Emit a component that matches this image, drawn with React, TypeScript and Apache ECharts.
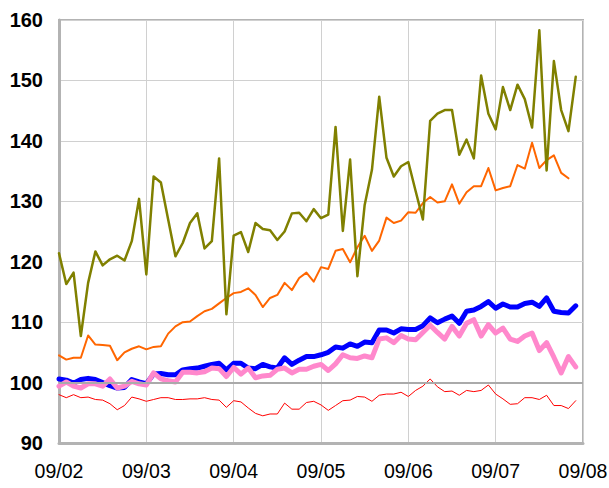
import React, { useEffect, useRef } from "react";
import * as echarts from "echarts";

const monthLabels = ["09/02", "09/03", "09/04", "09/05", "09/06", "09/07", "09/08"];
const periodsPerMonth = 12;
const yTicks = [90, 100, 110, 120, 130, 140, 150, 160];

const oliveSeries = [
  121.4, 116.3, 118.2, 107.7, 116.5, 121.7, 119.4, 120.4, 121.0, 120.2, 123.4, 130.4,
  117.9, 134.1, 133.1, 127.0, 120.9, 123.1, 126.4, 128.0, 122.2, 123.4, 137.1, 111.3,
  124.3, 124.9, 121.6, 126.4, 125.4, 125.2, 123.6, 125.0, 128.0, 128.1, 126.7, 128.7,
  127.2, 127.8, 142.3, 125.1, 136.9, 117.6, 129.4, 135.2, 147.3, 137.2, 134.1, 135.8,
  136.5, 131.7, 127.0, 143.3, 144.5, 145.1, 145.1, 137.7, 140.2, 137.1, 150.8, 144.5,
  141.9, 148.9, 145.1, 149.3, 146.9, 142.2, 158.3, 135.1, 153.2, 145.1, 141.6, 150.6,
];

const orangeSeries = [
  104.5, 103.8, 104.1, 104.1, 107.8, 106.3, 106.2, 106.1, 103.7, 105.0, 105.6, 106.0,
  105.5, 105.9, 106.0, 108.1, 109.3, 110.0, 110.1, 111.0, 111.8, 112.2, 113.1, 114.0,
  114.8, 115.0, 115.6, 114.5, 112.5, 114.0, 114.5, 116.5, 115.3, 117.3, 118.2, 116.7,
  119.1, 118.8, 121.8, 122.1, 119.9, 122.4, 124.3, 121.8, 123.5, 127.3, 126.4, 126.8,
  128.2, 128.1, 129.7, 130.7, 129.8, 130.0, 132.8, 129.6, 131.5, 132.5, 132.5, 135.5,
  131.8, 132.2, 132.5, 136.0, 135.4, 139.7, 135.5, 136.8, 137.6, 134.7, 133.8,
];

const blueSeries = [
  100.6, 100.4, 99.9, 100.5, 100.7, 100.5, 100.0, 99.5, 99.1, 99.2, 100.5, 100.1,
  99.8, 101.4, 101.5, 101.3, 101.3, 102.1, 102.3, 102.4, 102.7, 103.0, 103.2, 102.1,
  103.2, 103.2, 102.4, 102.3, 103.0, 102.6, 102.4, 104.1, 103.0, 103.7, 104.3, 104.3,
  104.6, 105.0, 105.9, 105.7, 106.4, 106.0, 106.7, 106.6, 108.7, 108.7, 108.2, 108.9,
  108.8, 108.8, 109.4, 110.7, 109.9, 110.5, 111.0, 109.8, 111.8, 112.0, 112.6, 113.4,
  112.3, 113.0, 112.5, 112.5, 113.1, 113.3, 112.6, 114.0, 111.8, 111.6, 111.5, 112.7,
];

const pinkSeries = [
  99.4, 100.1, 99.4, 99.1, 99.8, 99.8, 99.4, 100.6, 99.1, 99.4, 100.2, 99.8,
  99.6, 101.6, 100.6, 100.3, 100.1, 101.7, 101.7, 101.6, 101.8, 102.4, 102.3, 101.0,
  102.5, 101.4, 102.4, 100.8, 101.1, 101.2, 102.2, 102.4, 101.6, 102.2, 102.2, 102.7,
  103.0, 102.0, 103.1, 104.6, 104.1, 104.0, 104.4, 104.1, 107.2, 107.4, 106.6, 107.8,
  107.2, 107.1, 108.3, 109.5, 108.3, 107.2, 109.3, 107.7, 109.8, 110.4, 107.7, 109.6,
  108.2, 109.0, 107.2, 106.8, 107.7, 108.2, 105.3, 106.6, 104.2, 101.6, 104.3, 102.6,
];

const redSeries = [
  98.0, 97.5, 98.0, 97.5, 97.6, 97.2, 97.1, 96.5, 95.5, 96.2, 97.6, 97.3,
  96.9, 97.2, 97.5, 97.5, 97.2, 97.2, 97.3, 97.3, 97.5, 97.2, 97.1, 95.9,
  97.0, 96.8, 95.8, 94.9, 94.5, 94.8, 94.8, 96.6, 95.6, 95.6, 96.7, 96.9,
  96.3, 95.4, 96.2, 97.0, 97.1, 97.7, 97.6, 96.9, 97.9, 98.1, 98.1, 98.4,
  97.7, 98.7, 99.4, 100.6, 99.3, 98.5, 98.6, 97.9, 98.7, 98.5, 98.7, 99.6,
  98.1, 97.3, 96.4, 96.5, 97.5, 97.5, 97.2, 97.9, 96.2, 96.2, 95.7, 97.0,
];

const baselineValue = 100;

const toPoints = (arr: number[]) => arr.map((v, i) => [i, v]);

export default function App() {
  const ref = useRef<HTMLDivElement>(null);

  useEffect(() => {
    if (!ref.current) return;
    const chart = echarts.init(ref.current, undefined, { renderer: "svg" });
    const xMax = (monthLabels.length - 1) * periodsPerMonth;
    const lineSeries = (name: string, data: number[], color: string, width: number, z: number, extra: any = {}) => ({
      name,
      type: "line",
      data: toPoints(data),
      showSymbol: false,
      symbol: "none",
      lineStyle: { color, width, join: "round", cap: "round" },
      itemStyle: { color },
      z,
      ...extra,
    });
    chart.setOption({
      animation: false,
      backgroundColor: "#ffffff",
      grid: {
        left: 59,
        top: 20,
        right: 26,
        bottom: 45,
        containLabel: false,
        outerBoundsMode: "none",
        show: true,
        borderColor: "#b3b3b3",
        borderWidth: 2,
      },
      xAxis: {
        type: "value",
        min: 0,
        max: xMax,
        interval: periodsPerMonth,
        axisLine: { show: true, lineStyle: { color: "#b3b3b3", width: 3 } },
        axisTick: { show: false },
        splitLine: { show: true, lineStyle: { color: "#d0d0d0", width: 1 } },
        axisLabel: {
          color: "#000000",
          fontFamily: "Liberation Sans",
          fontSize: 19.5,
          margin: 18,
          formatter: (v: number) => monthLabels[Math.round(v / periodsPerMonth)] ?? "",
        },
      },
      yAxis: {
        type: "value",
        min: yTicks[0],
        max: yTicks[yTicks.length - 1],
        interval: 10,
        axisLine: { show: true, lineStyle: { color: "#b3b3b3", width: 3 } },
        axisTick: { show: false },
        splitLine: { show: true, lineStyle: { color: "#d0d0d0", width: 1 } },
        axisLabel: {
          color: "#000000",
          fontFamily: "Liberation Sans",
          fontWeight: "bold",
          fontSize: 20,
          margin: 16,
        },
      },
      series: [
        lineSeries("red", redSeries, "#ff0000", 1, 2, {
          markLine: {
            silent: true,
            symbol: "none",
            label: { show: false },
            lineStyle: { color: "#aaaaaa", width: 2, type: "solid" },
            data: [{ yAxis: baselineValue }],
          },
        }),
        lineSeries("blue", blueSeries, "#0000ff", 5, 3),
        lineSeries("pink", pinkSeries, "#ff88cc", 5, 4),
        lineSeries("orange", orangeSeries, "#ff6600", 2, 5),
        lineSeries("olive", oliveSeries, "#808000", 2.5, 6),
      ],
    });
    return () => chart.dispose();
  }, []);

  return (
    <div
      ref={ref}
      style={{ position: "fixed", left: 0, top: 0, width: 609, height: 488 }}
    />
  );
}
